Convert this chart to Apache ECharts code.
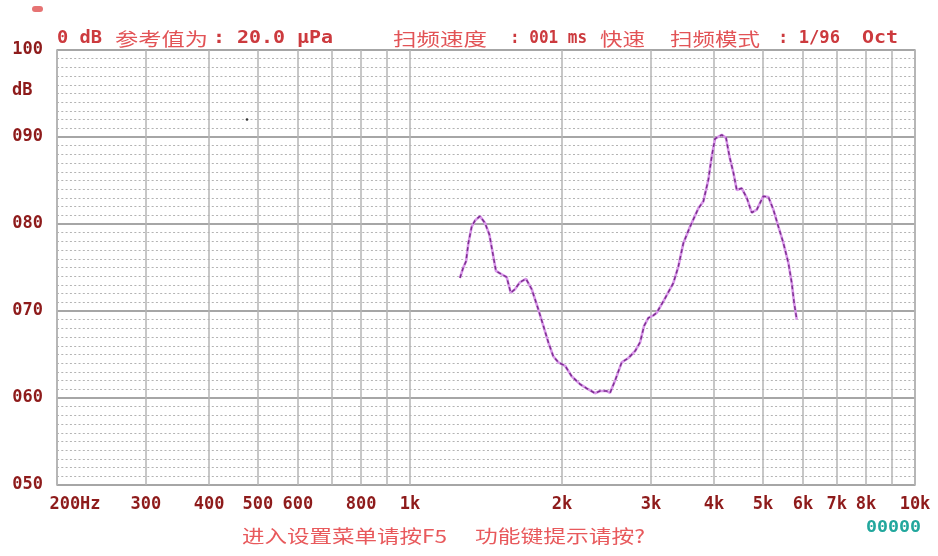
<!DOCTYPE html>
<html>
<head>
<meta charset="utf-8">
<script src="https://cdn.jsdelivr.net/npm/echarts@6/dist/echarts.min.js"></script>
<style>
html,body{margin:0;padding:0;background:#fff;}
#chart{width:938px;height:556px;}
</style>
</head>
<body>
<div id="chart"></div>
<script>
// ---- data ----
const freqHz = [1256,1275,1291,1305,1325,1345,1376,1408,1436,1462,1480,1519,1554,1583,1614,1651,1697,1742,1795,1837,1879,1922,1967,2028,2090,2171,2238,2325,2379,2452,2490,2547,2626,2707,2791,2855,2908,2965,3033,3080,3174,3322,3399,3478,3586,3724,3810,3898,3959,4018,4143,4225,4290,4369,4437,4539,4644,4751,4861,5009,5125,5243,5364,5488,5615,5702,5762,5834];
const levelDb = [73.8,75.0,75.7,77.8,79.7,80.4,80.9,80.1,78.8,76.3,74.6,74.2,73.9,72.1,72.5,73.3,73.7,72.5,70.2,68.3,66.4,64.8,64.1,63.7,62.5,61.6,61.1,60.55,60.8,60.8,60.6,62.0,64.1,64.6,65.4,66.4,68.3,69.2,69.5,69.8,71.1,73.2,75.1,77.8,79.7,81.8,82.6,85.1,87.8,89.8,90.25,89.9,87.8,85.9,83.9,84.1,83.0,81.3,81.65,83.2,83.1,81.65,79.7,77.8,75.5,73.2,70.95,69.0];
const gridFreqs = [200,300,400,500,600,700,800,900,1000,2000,3000,4000,5000,6000,7000,8000,9000,10000];
const labelFreqs = [200,300,400,500,600,800,1000,2000,3000,4000,5000,6000,7000,8000,10000];
const labelTexts = ['200Hz','300','400','500','600','800','1k','2k','3k','4k','5k','6k','7k','8k','10k'];
const yMin = 50, yMax = 100, yStep = 10;

const headerTexts = ['0 dB','参考值为',': 20.0 μPa','扫频速度',': 001 ms','快速','扫频模式',': 1/96','Oct'];
const footerTexts = ['进入设置菜单请按F5','功能键提示请按?'];
const counterText = '00000';
const unitText = 'dB';

// ---- layout ----
const headerLayout = [[57,102,'l'],[115,208,'c'],[213,333,'l'],[393,487,'c'],[510,587,'l'],[600,645,'c'],[670,760,'c'],[778,840,'l'],[862,898,'l']];
const footerLayout = [[242,447],[475,645]];

const MONO = "'DejaVu Sans Mono', 'Noto Sans CJK SC', monospace";
const CJK = "'Noto Sans CJK SC', 'DejaVu Sans Mono', sans-serif";
const AXIS_RED = '#8e1b1b';

const ctx = document.createElement('canvas').getContext('2d');
function measure(text, weight, size, family){
  ctx.font = weight + ' ' + size + 'px ' + family;
  return ctx.measureText(text).width;
}
function fitText(text, x0, x1, yc, weight, size, family, color){
  const w = measure(text, weight, size, family);
  return {
    type: 'text', x: x0, y: yc, scaleX: (x1 - x0) / w, z: 100,
    style: { text: text, fontSize: size, fontWeight: weight, fontFamily: family,
      fill: color, align: 'left', verticalAlign: 'middle' }
  };
}

const graphics = [];
headerTexts.forEach((t, i) => {
  const L = headerLayout[i];
  if (L[2] === 'l') graphics.push(fitText(t, L[0], L[1], 38.5, 'bold', 17, MONO, '#cc3a3e'));
  else graphics.push(fitText(t, L[0], L[1], 39, 'normal', 18, CJK, '#e25356'));
});
footerTexts.forEach((t, i) => {
  const L = footerLayout[i];
  graphics.push(fitText(t, L[0], L[1], 536, 'normal', 18, CJK, '#e8595c'));
});
graphics.push(fitText(counterText, 866, 921, 528, 'bold', 16, MONO, '#22a79d'));
graphics.push({ type: 'text', x: 12, y: 91, z: 100,
  style: { text: unitText, fontSize: 17, fontWeight: 'bold', fontFamily: MONO, fill: AXIS_RED, align: 'left', verticalAlign: 'middle' } });
graphics.push({ type: 'rect', shape: { x: 32, y: 6, width: 11, height: 6, r: 3 }, style: { fill: '#e05050', opacity: 0.8 } });
graphics.push({ type: 'circle', shape: { cx: 247, cy: 119.5, r: 1.3 }, style: { fill: '#333' }, z: 50 });

function nearestLabel(v){
  let best = 0, bd = Infinity;
  labelFreqs.forEach((f, i) => { const d = Math.abs(Math.log(v) - Math.log(f)); if (d < bd) { bd = d; best = i; } });
  return best;
}

const curve = freqHz.map((f, i) => [f, levelDb[i]]);
const labelRich = {
  first: { fontSize: 17, fontWeight: 'bold', fontFamily: MONO, color: AXIS_RED, padding: [0, 0, 0, 36] },
  n: { fontSize: 17, fontWeight: 'bold', fontFamily: MONO, color: AXIS_RED }
};

const chart = echarts.init(document.getElementById('chart'), null, { renderer: 'canvas' });
chart.setOption({
  animation: false,
  backgroundColor: '#ffffff',
  grid: { left: 57, right: 23, top: 50, bottom: 71, show: true, borderColor: '#a8a8a8', borderWidth: 1.5, backgroundColor: 'transparent' },
  xAxis: {
    type: 'log', logBase: 10, min: 200, max: 10000,
    axisLine: { show: false },
    axisTick: { show: false, customValues: gridFreqs },
    splitLine: { show: true, lineStyle: { color: '#b5b5b5', width: 1.5 } },
    axisLabel: {
      customValues: labelFreqs, margin: 11, showMinLabel: true, showMaxLabel: true,
      fontSize: 17, fontWeight: 'bold', fontFamily: MONO, color: AXIS_RED,
      formatter: function (v) { const i = nearestLabel(v); return i === 0 ? '{first|' + labelTexts[i] + '}' : '{n|' + labelTexts[i] + '}'; },
      rich: labelRich
    }
  },
  yAxis: {
    type: 'value', min: yMin, max: yMax, interval: yStep,
    axisLine: { show: false },
    axisTick: { show: false },
    minorTick: { show: true, splitNumber: 10, length: 0, lineStyle: { opacity: 0 } },
    minorSplitLine: { show: true, lineStyle: { color: '#b3b3b3', width: 1, type: [2, 2.3] } },
    splitLine: { show: true, lineStyle: { color: '#a6a6a6', width: 2 } },
    axisLabel: {
      margin: 14, fontSize: 17, fontWeight: 'bold', fontFamily: MONO, color: AXIS_RED,
      formatter: function (v) { return String(v).padStart(3, '0'); }
    }
  },
  series: [
    { type: 'line', data: curve, symbol: 'none', silent: true, z: 3,
      lineStyle: { color: '#d795e8', width: 2.6 } },
    { type: 'line', data: curve, symbol: 'none', silent: true, z: 4,
      lineStyle: { color: '#7d2f90', width: 1.5, type: [4, 3] } }
  ],
  graphic: graphics
});
</script>
</body>
</html>
